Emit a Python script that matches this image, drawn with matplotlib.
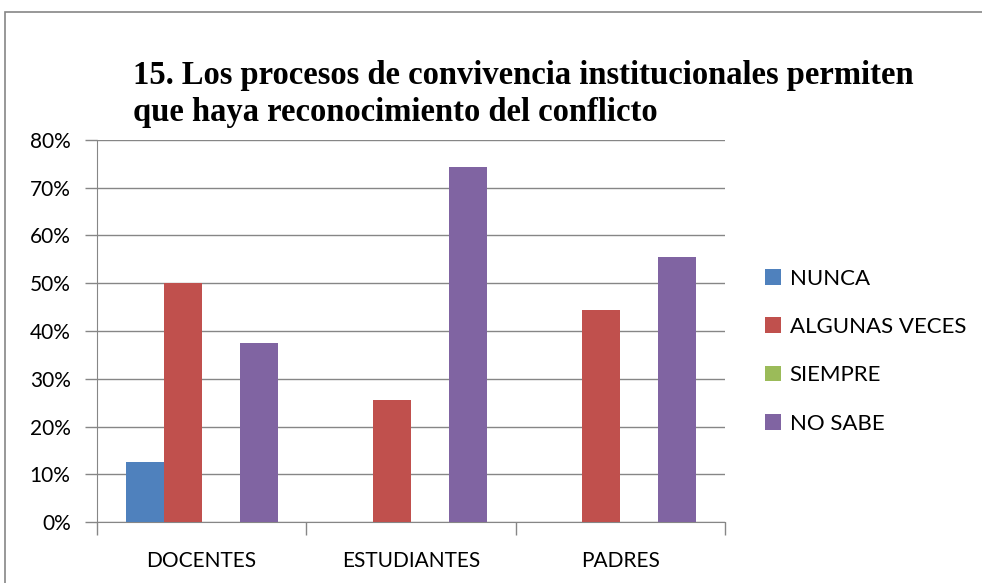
import numpy as np
import matplotlib
matplotlib.use("Agg")
import matplotlib.pyplot as plt
from matplotlib.patches import Rectangle

# data
categories = ["DOCENTES", "ESTUDIANTES", "PADRES"]
series_names = ["NUNCA", "ALGUNAS VECES", "SIEMPRE", "NO SABE"]
nunca = [0.125, 0.0, 0.0]
algunas_veces = [0.50, 0.256, 0.444]
siempre = [0.0, 0.0, 0.0]
no_sabe = [0.375, 0.744, 0.556]
y_ticks = [0.0, 0.1, 0.2, 0.3, 0.4, 0.5, 0.6, 0.7, 0.8]

colors = ["#4F81BD", "#C0504D", "#9BBB59", "#8064A2"]
title = "15. Los procesos de convivencia institucionales permiten\nque haya reconocimiento del conflicto"

fig = plt.figure(figsize=(9.82, 5.83), dpi=100)
ax = fig.add_axes([0.0988, 0.1046, 0.6395, 0.6553])

# outer chart border
fig.patches.append(Rectangle((0.005, -0.01), 1.0, 0.99, transform=fig.transFigure,
                             fill=False, edgecolor="#868686", linewidth=1.2))

x = np.arange(len(categories))
w = 0.1816
all_series = [nunca, algunas_veces, siempre, no_sabe]
for j, (name, vals) in enumerate(zip(series_names, all_series)):
    ax.bar(x + (j - 1.5) * w, vals, width=w, color=colors[j], label=name, zorder=3)

ax.set_xlim(-0.5, len(categories) - 0.5)
ax.set_ylim(0, 0.8)
ax.set_yticks(y_ticks)
ax.set_yticklabels([f"{int(round(v * 100))}%" for v in y_ticks],
                   fontsize=15, family="Lato")
ax.yaxis.grid(True, color="#868686", linewidth=1.0, zorder=0)

ax.set_xticks(x)
ax.set_xticklabels(categories, fontsize=15, family="Lato")
ax.tick_params(axis="x", length=0, pad=21)
ax.set_xticks(np.arange(len(categories) + 1) - 0.5, minor=True)
ax.tick_params(axis="x", which="minor", length=9, color="#868686", width=1.0)
ax.tick_params(axis="y", length=9, color="#868686", width=1.0, pad=10)

for side in ["top", "right"]:
    ax.spines[side].set_visible(False)
ax.spines["left"].set_color("#868686")
ax.spines["bottom"].set_color("#868686")

fig.text(0.135, 0.897, title, fontsize=23.5, fontweight="bold", family="Liberation Serif",
         ha="left", va="top", linespacing=1.25)

leg = ax.legend(loc="center left", bbox_to_anchor=(1.032, 0.447), frameon=False,
                prop={"family": "Lato", "size": 16}, handlelength=0.7, handleheight=0.7,
                labelspacing=1.28, handletextpad=0.4)

fig.savefig("out.png", dpi=100)
